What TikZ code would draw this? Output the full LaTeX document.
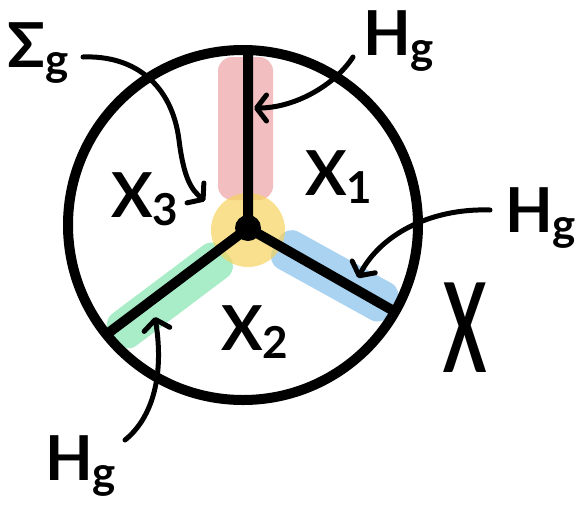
\documentclass[tikz,border=0pt]{standalone}
\usepackage{fontspec}
\setmainfont{Lato}
\usetikzlibrary{arrows.meta}
\definecolor{bandred}{RGB}{236,163,165}
\definecolor{bandyellow}{RGB}{246,211,95}
\definecolor{bandgreen}{RGB}{131,229,176}
\definecolor{bandblue}{RGB}{132,192,234}
\newcommand{\sublab}[2]{#1\raisebox{-8pt}{\fontsize{44}{44}\selectfont #2}}
\begin{document}
\begin{tikzpicture}[x=1pt, y=-1pt,
	lab/.style={font=\fontsize{62}{62}\selectfont\bfseries, inner sep=0pt, anchor=base west},
	band/.style={fill opacity=0.7, rounded corners=14pt},
	ink/.style={line width=5pt, line cap=round, -{Straight Barb[length=10pt, width=26pt, round]}}]
	\useasboundingbox (0,0) rectangle (578,507);
	\coordinate (O) at (243,225);
	\coordinate (J) at (248,228);
	\coordinate (top) at (248,50);
	\coordinate (left) at (107,334);
	\coordinate (right) at (392,310);
	\fill[bandred, band] (218,57) rectangle (273,200);
	\begin{scope}[shift={(J)}, rotate=-143.1]
		\fill[bandgreen, band] (32,-27) rectangle (174,13);
	\end{scope}
	\begin{scope}[shift={(J)}, rotate=-28.9]
		\fill[bandblue, band] (32,-21) rectangle (166,21);
	\end{scope}
	\fill[bandyellow, fill opacity=0.7] (248,230) circle[radius=37];
	\draw[line width=10pt] (J) -- (top) (J) -- (left) (J) -- (right);
	\fill (J) circle[radius=13];
	\draw[line width=10pt] (O) circle[radius=175];
	\node[lab] (sg) at (7,67) {\sublab{Σ}{g}};
	\node[lab] (hga) at (363,55) {\sublab{H}{g}};
	\node[lab] (hgb) at (505,232) {\sublab{H}{g}};
	\node[lab] (hgc) at (45,480) {\sublab{H}{g}};
	\node[lab] (xone) at (305,195) {\sublab{X}{1}};
	\node[lab] (xtwo) at (221,350) {\sublab{X}{2}};
	\node[lab] (xthree) at (111,217) {\sublab{X}{3}};
	\node[font=\fontsize{124}{124}\selectfont\bfseries, inner sep=0pt] (bigx) at (465,328) {\scalebox{0.52}[1]{X}};
	\coordinate (sgtail) at (83,57);
	\coordinate (sghead) at (205,201);
	\coordinate (hgatail) at (353,57);
	\coordinate (hgahead) at (254,108);
	\coordinate (hgbtail) at (490,210);
	\coordinate (hgbhead) at (358,278);
	\coordinate (hgctail) at (125,440);
	\coordinate (hgchead) at (155,317);
	\draw[ink] (sgtail) .. controls (135,55) and (172,85) .. (179,140) .. controls (184,180) and (192,190) .. (sghead);
	\draw[ink] (hgatail) .. controls (335,85) and (295,108) .. (hgahead);
	\draw[ink] (hgbtail) .. controls (430,208) and (380,235) .. (hgbhead);
	\draw[ink] (hgctail) .. controls (150,420) and (165,380) .. (hgchead);
\end{tikzpicture}
\end{document}
